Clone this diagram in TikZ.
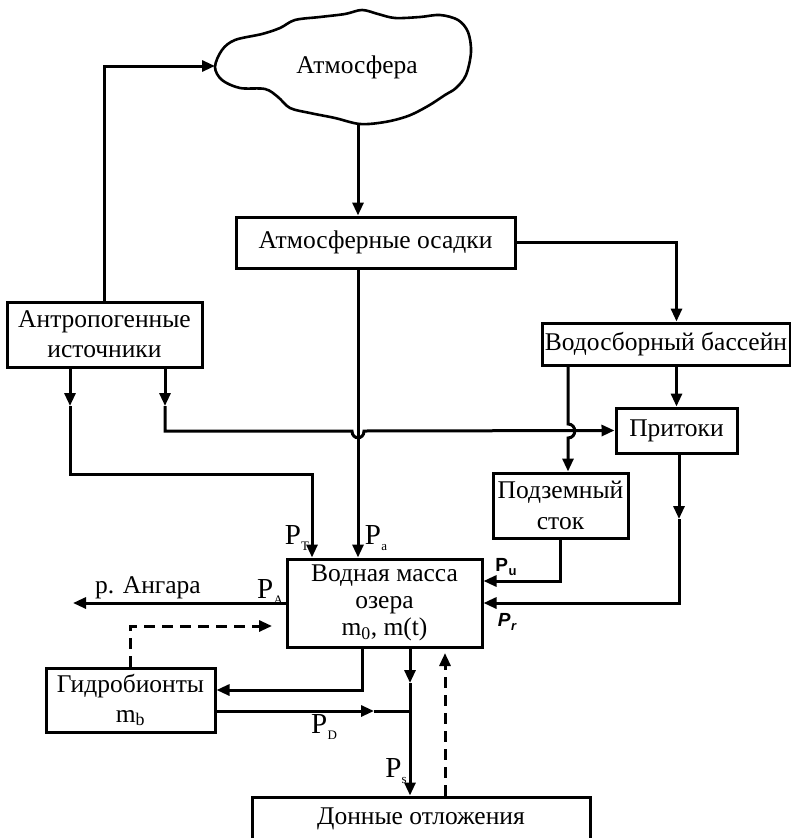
\documentclass[tikz,border=0pt]{standalone}
\usepackage{fontspec}
\setmainfont{Liberation Serif}
\setsansfont{Liberation Sans}
\usetikzlibrary{arrows.meta,calc}
\newcommand\mySubP[1]{{\fontsize{29}{29}\selectfont P\kern0.3pt\raisebox{-0.2em}{\fontsize{13}{13}\selectfont #1}}}
\newcommand\mySansP[2]{{\sffamily\bfseries\fontsize{19}{19}\selectfont #1\kern0.5pt\raisebox{-0.2em}{\fontsize{13}{13}\selectfont #2}}}
\begin{document}
\begin{tikzpicture}[x=1pt,y=-1pt,
  every node/.style={font=\fontsize{25.5}{29}\selectfont},
  box/.style={draw,line width=3pt,rectangle,inner sep=0pt,align=center},
  conn/.style={line width=3pt},
  arr/.style={conn,-{Triangle[length=13pt,width=11pt]}},
  dconn/.style={line width=3pt,dash pattern=on 11pt off 7pt},
  darr/.style={dconn,-{Triangle[length=13pt,width=11pt]}},
  lbl/.style={inner sep=0pt}
]
\useasboundingbox (0,0) rectangle (791,838);
% cloud
\draw[line width=2.6pt] plot[smooth cycle,tension=0.55] coordinates {
 (215,67) (222,50) (235,40) (262,34) (280,28) (295,20) (320,17) (345,14) (362,10)
 (378,14) (395,18) (420,17) (440,15) (458,20) (468,32) (471,52) (466,75) (456,88)
 (445,95) (428,106) (408,116) (385,122) (360,124) (335,118) (310,113) (290,108)
 (278,97) (265,89) (240,88) (222,80)};
\node (atm) at (357,67) {Атмосфера};
\coordinate (cloudW) at (215,66);
\coordinate (cloudS) at (358,124);

% boxes
\node[box,minimum width=195pt,minimum height=65pt,font=\fontsize{25.5}{30}\selectfont] (anthro) at (104.5,334.5) {Антропогенные\\источники};
\node[box,minimum width=279pt,minimum height=51pt] (osadki) at (375.5,242.5) {Атмосферные осадки};
\node[box,minimum width=248pt,minimum height=42pt] (vodos) at (666,344) {Водосборный бассейн};
\node[box,minimum width=121pt,minimum height=45pt] (prit) at (676.5,430.5) {Притоки};
\node[box,minimum width=135pt,minimum height=65pt,font=\fontsize{25.5}{31}\selectfont] (podz) at (560.5,505.5) {Подземный\\сток};
\node[box,minimum width=195pt,minimum height=88pt,font=\fontsize{25.5}{27}\selectfont] (vm) at (384.5,603) {Водная масса\\озера\\m\textsubscript{0}, m(t)};
\node[box,minimum width=169pt,minimum height=64pt,font=\fontsize{25.5}{30}\selectfont] (gidro) at (130.5,700) {Гидробионты\\m\textsubscript{b}};
\node[box,minimum width=338pt,minimum height=44pt] (donn) at (421,819) {Донные отложения};

% helper coordinates
\coordinate (xA) at (70,0);
\coordinate (xB) at (165,0);
\coordinate (xT) at (312,0);
\coordinate (xU) at (568,0);
\coordinate (xR) at (679,0);
\coordinate (xG) at (362,0);
\coordinate (xD) at (445,0);
\coordinate (yU) at (0,581);
\coordinate (yG) at (0,690);
\coordinate (tA1) at (70,406);
\coordinate (tA2) at (70,474);
\coordinate (tA3) at (312,474);
\coordinate (tB1) at (165,406);
\coordinate (tB2) at (165,431);
\coordinate (tR1) at (679,519);
\coordinate (tR2) at (679,603);
\coordinate (angara) at (73,603);
\coordinate (dashEnd) at (272,626);
\coordinate (junc) at (410,711);
\coordinate (pdTip) at (374,711);
\coordinate (sTip) at (410,683);
\coordinate (dUp) at (445,653);

% connectors
\draw[arr] (anthro.north) |- (cloudW);
\draw[arr] (cloudS) -- (cloudS |- osadki.north);
\draw[arr] (osadki.east) -| (vodos.north -| prit.north);
\draw[arr] (osadki.south -| cloudS) -- (vm.north -| cloudS);
\draw[arr] (anthro.south -| xA) -- (tA1);
\draw[arr] (tA1) -- (tA2) -- (tA3) -- (vm.north -| xT);
\draw[arr] (anthro.south -| xB) -- (tB1);
\draw[arr] (tB1) -- (tB2) -- (352,431) .. controls (352,440) and (364,440) .. (364,431) -- (prit.west);
\draw[arr] (vodos.south -| xU) -- (568,424) .. controls (577,424) and (577,438) .. (568,438) -- (podz.north -| xU);
\draw[arr] (vodos.south -| prit.north) -- (prit.north);
\draw[arr] (prit.south -| xR) -- (tR1);
\draw[arr] (tR1) -- (tR2) -- (vm.east);
\draw[arr] (podz.south) |- (vm.east |- yU);
\draw[arr] (vm.west) -- (angara);
\draw[darr] (gidro.north) |- (dashEnd);
\draw[arr] (vm.south -| xG) |- (gidro.east |- yG);
\draw[arr] (gidro.east |- junc) -- (pdTip);
\draw[conn] (pdTip) -- (junc);
\draw[arr] (vm.south -| junc) -- (sTip);
\draw[arr] (sTip) -- (donn.north -| junc);
\draw[darr] (donn.north -| xD) -- (dUp);

% labels
\node[lbl] (lT) at (297,538) {\mySubP{T}};
\node[lbl] (la) at (376,538) {\mySubP{a}};
\node[lbl] (lA) at (270,592) {\mySubP{A}};
\node[lbl] (lD) at (324,727) {\mySubP{D}};
\node[lbl] (ls) at (396,771) {\mySubP{s}};
\node[lbl] (lu) at (506,567) {\mySansP{P}{u}};
\node[lbl] (lr) at (507,622) {\mySansP{\itshape P}{r}};
\node[lbl] (lang) at (148,588) {р. Ангара};
\end{tikzpicture}
\end{document}
